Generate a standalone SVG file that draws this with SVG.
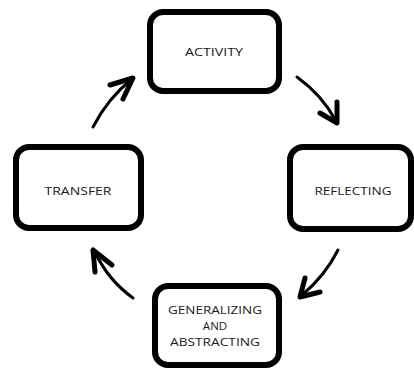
<svg xmlns="http://www.w3.org/2000/svg" width="414" height="369" viewBox="0 0 414 369">
  <defs>
    <style>
      .box { fill: #ffffff; stroke: #000000; stroke-width: 6; }
      .label { font-family: "Open Sans", "Liberation Sans", sans-serif; font-size: 11.5px; fill: #1a1a1a; text-anchor: middle; dominant-baseline: central; }
      .flow { fill: none; stroke: #000000; stroke-width: 3; stroke-linecap: round; }
      .head { fill: none; stroke: #000000; stroke-width: 5; stroke-linecap: round; stroke-linejoin: round; }
    </style>
  </defs>
  <rect width="414" height="369" fill="#ffffff"/>

  <g id="activity">
    <rect class="box" x="150" y="12" width="129" height="79" rx="13"/>
    <text class="label" x="214" y="51" textLength="58" lengthAdjust="spacingAndGlyphs">ACTIVITY</text>
  </g>

  <g id="reflecting">
    <rect class="box" x="290" y="147" width="121" height="82" rx="13"/>
    <text class="label" x="353" y="190" textLength="77" lengthAdjust="spacingAndGlyphs">REFLECTING</text>
  </g>

  <g id="generalizing">
    <rect class="box" x="155" y="286" width="124" height="79" rx="13"/>
    <text class="label" x="215" y="309" textLength="94" lengthAdjust="spacingAndGlyphs">GENERALIZING</text>
    <text class="label" x="215" y="325">AND</text>
    <text class="label" x="215" y="341" textLength="90" lengthAdjust="spacingAndGlyphs">ABSTRACTING</text>
  </g>

  <g id="transfer">
    <rect class="box" x="16" y="147" width="125" height="81" rx="13"/>
    <text class="label" x="78" y="190" textLength="67" lengthAdjust="spacingAndGlyphs">TRANSFER</text>
  </g>

  <g id="connectors">
    <!-- transfer to activity -->
    <path class="flow" d="M93,127 Q108,98 132,79"/>
    <path class="head" d="M110,85 L133,78 L123,99"/>
    <!-- activity to reflecting -->
    <path class="flow" d="M297,77 Q322,95 336,121"/>
    <path class="head" d="M320,113 L337,123 L337,102"/>
    <!-- reflecting to generalizing -->
    <path class="flow" d="M338,250 Q325,276 302,295"/>
    <path class="head" d="M320,292 L300,297 L305,278"/>
    <!-- generalizing to transfer -->
    <path class="flow" d="M133,298 Q108,280 95,252"/>
    <path class="head" d="M112,265 L93,250 L95,272"/>
  </g>
</svg>
